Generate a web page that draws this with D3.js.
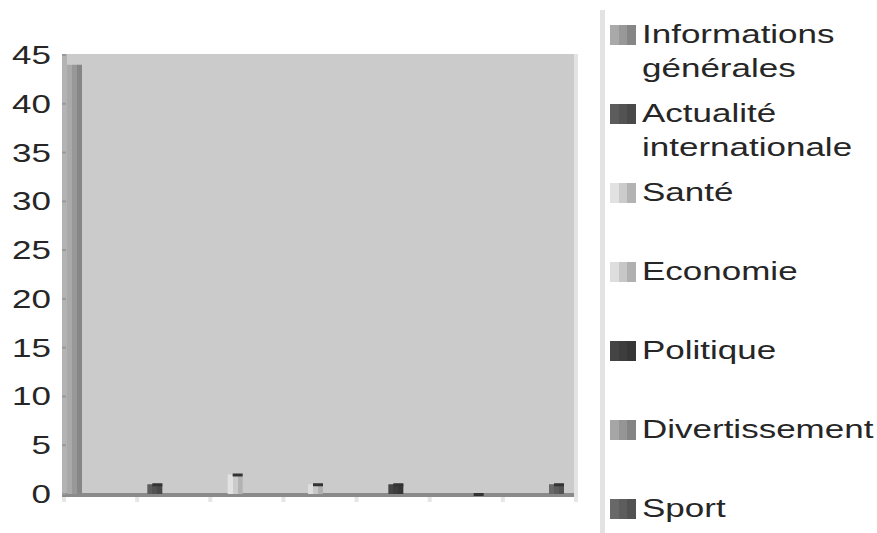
<!DOCTYPE html>
<html>
<head>
<meta charset="utf-8">
<script src="https://cdn.jsdelivr.net/npm/d3@7"></script>
<style>
  html, body { margin: 0; padding: 0; background: #ffffff; }
  svg { display: block; }
  text { font-family: "Liberation Sans", Arial, sans-serif; fill: #262626; }
</style>
</head>
<body>
<svg id="chart" width="877" height="533"></svg>
<script>
// Rubriques et nombre d'articles par rubrique
const series = ["Informations générales", "Actualité internationale", "Santé", "Economie", "Politique", "Divertissement", "Sport"];
const values = [44, 1, 2, 1, 1, 0, 1];
const colors = ["#a9a9a9", "#5c5c5c", "#e2e2e2", "#dedede", "#444444", "#a6a6a6", "#686868"];
const legendLines = [["Informations", "générales"], ["Actualité", "internationale"], ["Santé"], ["Economie"], ["Politique"], ["Divertissement"], ["Sport"]];
const yTicks = [0, 5, 10, 15, 20, 25, 30, 35, 40, 45];

const rows = series.map((name, i) => ({ name, value: values[i], color: colors[i], lines: legendLines[i], id: i }));

const svg = d3.select("#chart");
const stretch = 1.4; // horizontal stretch of all lettering

const plot = { left: 62, right: 574, top: 54, bottom: 494, wall: 5 };

const y = d3.scaleLinear().domain([0, 45]).range([plot.bottom, plot.top + 1]);
const x = d3.scalePoint().domain(series).range([plot.left + plot.wall, 549]);
const xCat = d3.scaleBand().domain(series).range([plot.left + 2, plot.right + 2]);
const barW = 15;

// Back wall and side wall
svg.append("rect")
  .attr("x", plot.left).attr("y", plot.top)
  .attr("width", plot.right - plot.left).attr("height", plot.bottom - plot.top)
  .attr("fill", "#cbcbcb");
svg.append("rect")
  .attr("x", plot.left).attr("y", plot.top)
  .attr("width", plot.wall).attr("height", plot.bottom - plot.top)
  .attr("fill", "#b3b3b3");
svg.append("rect")
  .attr("x", plot.right).attr("y", plot.top)
  .attr("width", 4).attr("height", plot.bottom - plot.top + 3)
  .attr("fill", "#e3e3e3");

// Shaded fills for the columns
const defs = svg.append("defs");
rows.forEach(r => {
  const c = d3.color(r.color);
  const g = defs.append("linearGradient").attr("id", "g" + r.id)
    .attr("x1", "0").attr("x2", "1").attr("y1", "0").attr("y2", "0");
  const stops = [[0, c], [0.34, c], [0.34, c.darker(0.3)], [0.67, c.darker(0.3)], [0.67, c.darker(0.65)], [1, c.darker(0.65)]];
  stops.forEach(([o, col]) => g.append("stop").attr("offset", o).attr("stop-color", col.formatHex()));
});

// Floor line
svg.append("rect")
  .attr("x", plot.left).attr("y", plot.bottom - 1)
  .attr("width", plot.right - plot.left).attr("height", 4)
  .attr("fill", "#8a8a8a");

// Columns
const bars = svg.append("g").selectAll("g").data(rows).join("g");
bars.append("rect")
  .attr("x", d => x(d.name))
  .attr("y", d => y(d.value))
  .attr("width", barW)
  .attr("height", d => y(0) - y(d.value))
  .attr("fill", d => `url(#g${d.id})`);
// dark top edge on the short columns
bars.filter(d => d.value < 5).append("rect")
  .attr("x", d => x(d.name) + 5)
  .attr("y", d => y(d.value) - 1)
  .attr("width", barW - 5)
  .attr("height", 3)
  .attr("fill", "#333333");

// Category tick marks under the floor
svg.append("g").selectAll("rect")
  .data(series.map(s => xCat(s)).concat([xCat(series[series.length - 1]) + xCat.bandwidth()]))
  .join("rect")
  .attr("x", d => d - 2).attr("y", plot.bottom + 3)
  .attr("width", 4).attr("height", 5)
  .attr("fill", "#e6e6e6");

// Value axis
const yAxis = svg.append("g");
yAxis.selectAll("rect").data(yTicks).join("rect")
  .attr("x", plot.left).attr("y", d => y(d) - 1)
  .attr("width", 4).attr("height", 2)
  .attr("fill", "#9a9a9a");
yAxis.selectAll("g").data(yTicks).join("g")
  .attr("transform", d => `translate(51,${y(d) + 9}) scale(${stretch},1)`)
  .append("text")
  .attr("text-anchor", "end")
  .style("font-size", "25px")
  .text(d => d);

// Legend
svg.append("rect")
  .attr("x", 600).attr("y", 10)
  .attr("width", 5).attr("height", 523)
  .attr("fill", "#e3e3e3");
const ly = d3.scalePoint().domain(series).range([43, 517]);
const legend = svg.append("g").selectAll("g").data(rows).join("g")
  .attr("transform", d => `translate(0,${ly(d.name)})`);
legend.append("rect")
  .attr("x", 610).attr("y", -18)
  .attr("width", 26).attr("height", 20)
  .attr("fill", d => `url(#g${d.id})`);
legend.each(function (d) {
  const g = d3.select(this);
  d.lines.forEach((line, k) => {
    g.append("g")
      .attr("transform", `translate(642,${k * 34}) scale(${stretch},1)`)
      .append("text")
      .style("font-size", "25px")
      .text(line);
  });
});
</script>
</body>
</html>
